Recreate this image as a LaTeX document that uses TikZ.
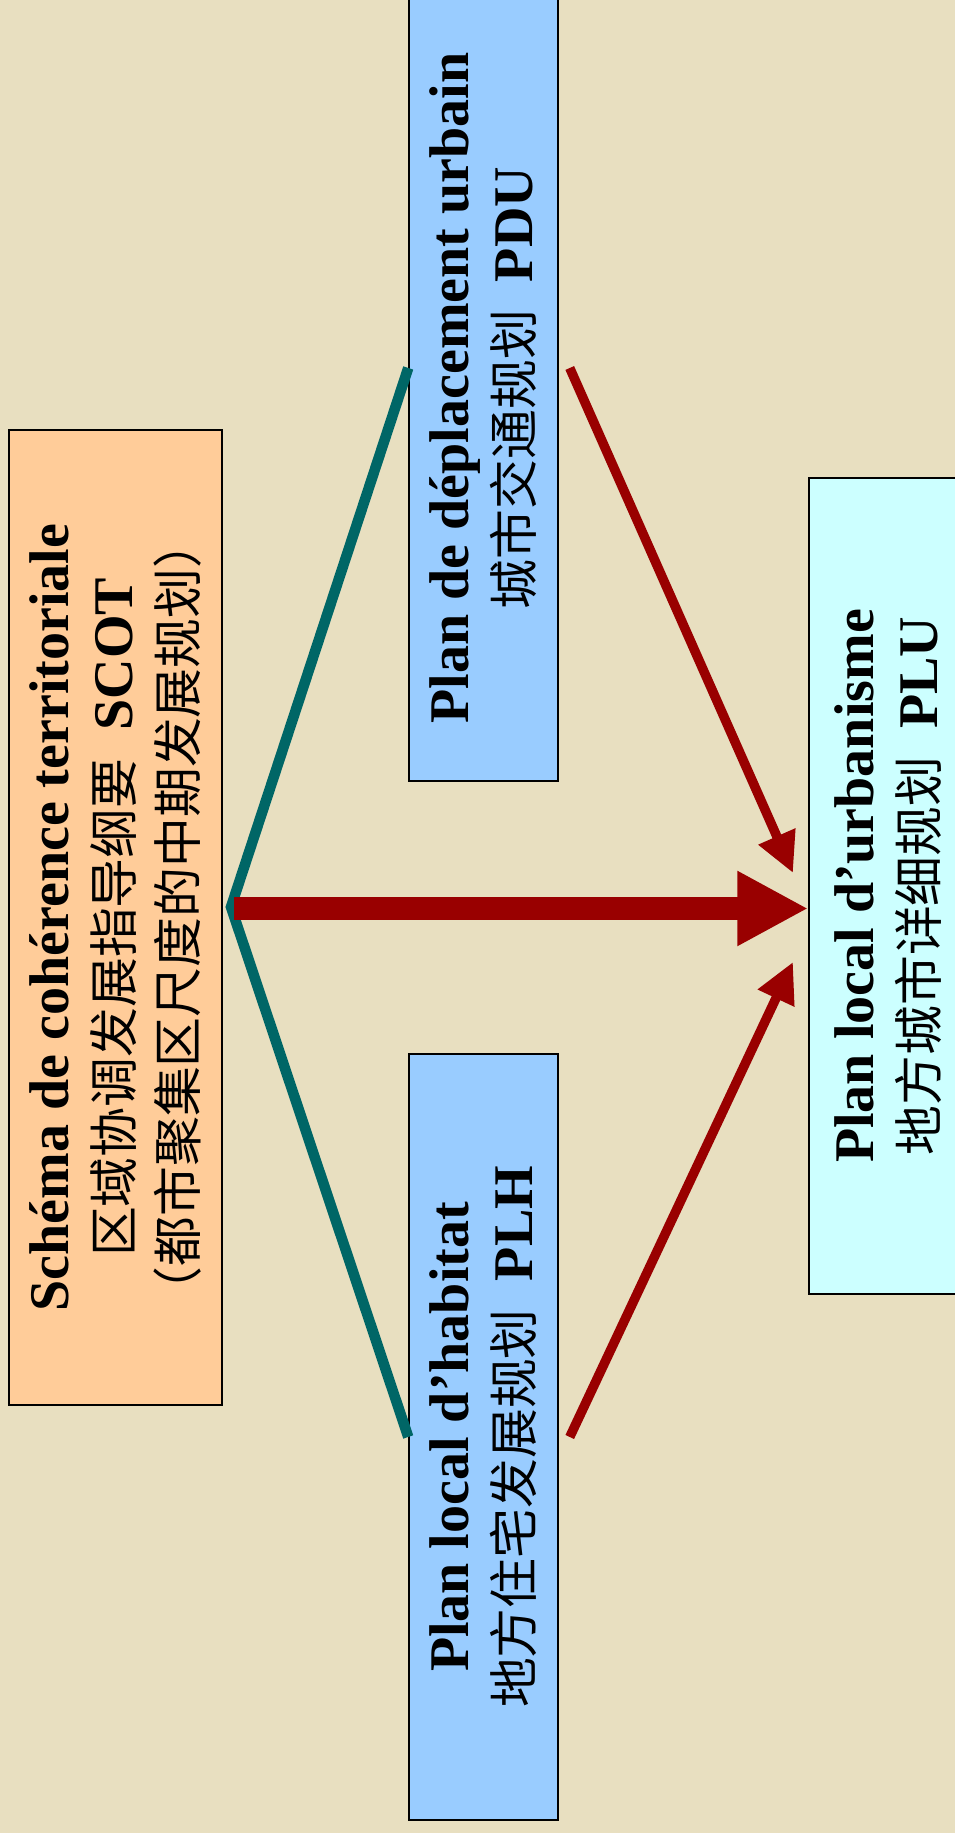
\documentclass[tikz,border=0pt]{standalone}
\usepackage{fontspec}
\setmainfont{Liberation Serif}
\newfontfamily\cjk{Noto Sans CJK SC}[Scale=0.89]
\newcommand\zh[1]{{\cjk\mdseries #1}}
\usetikzlibrary{arrows.meta}
\definecolor{bg}{HTML}{E8DFC0}
\definecolor{scotfill}{HTML}{FFCC99}
\definecolor{bluefill}{HTML}{99CCFF}
\definecolor{plufill}{HTML}{CCFFFF}
\definecolor{tealc}{HTML}{006666}
\definecolor{redc}{HTML}{990000}
\begin{document}
\begin{tikzpicture}[x=1pt,y=1pt,
  box/.style={draw=black, line width=1.5pt, rotate=90, align=center, inner sep=0pt,
    font=\fontsize{56}{64}\selectfont\bfseries},
  tealline/.style={draw=tealc, line width=10.5pt},
  thinarrow/.style={draw=redc, line width=9.5pt, -{Triangle[length=40pt,width=38pt]}},
  bigarrow/.style={draw=redc, line width=23pt, -{Triangle[length=71pt,width=70pt]}}]
\useasboundingbox (0,0) rectangle (955,1833);
\clip (0,0) rectangle (955,1833);
\fill[bg] (0,0) rectangle (955,1833);
\node[box, fill=scotfill, minimum width=975pt, minimum height=213pt] (SCOT) at (115.5,915.5)
  {Schéma de cohérence territoriale\\ \zh{区域协调发展指导纲要}\ \ SCOT\\ \zh{（都市聚集区尺度的中期发展规划）}};
\node[box, fill=bluefill, minimum width=786pt, minimum height=149pt] (PDU) at (483.5,1445)
  {Plan de déplacement urbain\\ \zh{城市交通规划}\ \ PDU};
\node[box, fill=bluefill, minimum width=766pt, minimum height=149pt] (PLH) at (483.5,396)
  {Plan local d’habitat\\ \zh{地方住宅发展规划}\ \ PLH};
\node[box, fill=plufill, minimum width=816pt, minimum height=158pt] (PLU) at (888,947)
  {Plan local d’urbanisme\\ \zh{地方城市详细规划}\ \ PLU};
\coordinate (hub) at (231,926);
\coordinate (tipA) at (793,960);
\coordinate (tipB) at (793,871);
\draw[tealline] ([yshift=20pt]PDU.north) -- (hub) -- (PLH.north);
\draw[bigarrow] ([xshift=3pt,yshift=-1.5pt]hub) -- ([yshift=-1.5pt]hub -| PLU.north);
\draw[thinarrow] ([xshift=11pt,yshift=20pt]PDU.south) -- (tipA);
\draw[thinarrow] ([xshift=11pt]PLH.south) -- (tipB);
\end{tikzpicture}
\end{document}
